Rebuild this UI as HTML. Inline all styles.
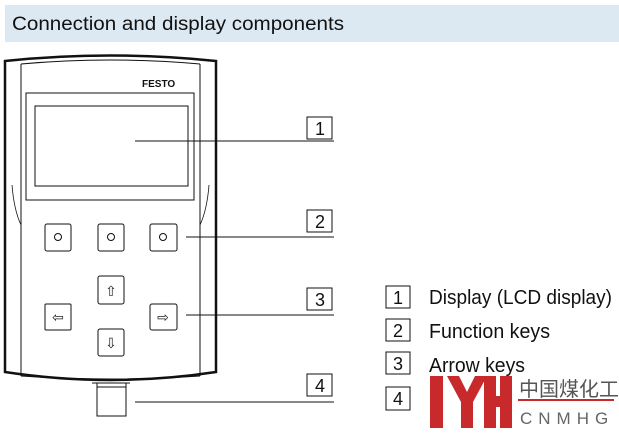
<!DOCTYPE html>
<html><head><style>body{margin:0;background:#fff;width:619px;height:433px;overflow:hidden}</style></head><body>
<svg width="619" height="433" viewBox="0 0 619 433" xmlns="http://www.w3.org/2000/svg" font-family="Liberation Sans, sans-serif">
<rect x="5" y="5" width="614" height="37" fill="#dce8f2"/>
<text x="12" y="30" font-size="19" fill="#111" textLength="332" lengthAdjust="spacingAndGlyphs">Connection and display components</text>
<g fill="none" stroke="#111">
<path d="M5,61 Q110,50 216,61 L216,372 Q110,388 5,372 Z" stroke-width="2.5"/>
<path d="M21,64 L21,376 M200,64 L200,376" stroke-width="1"/>
<path d="M21,64 Q110,56 200,64 M21,376 Q110,382 200,376" stroke-width="1"/>
<path d="M12,185 Q14,210 21,225 M209,185 Q207,210 200,225" stroke-width="0.8"/>
<rect x="26" y="93" width="168" height="107" stroke-width="1"/>
<rect x="35" y="106" width="153" height="80" stroke-width="1"/>
<rect x="45" y="224" width="26" height="27" rx="2"/>
<rect x="98" y="224" width="26" height="27" rx="2"/>
<rect x="150" y="224" width="27" height="27" rx="2"/>
<circle cx="58" cy="237" r="3.5"/><circle cx="111" cy="237" r="3.5"/><circle cx="163" cy="237" r="3.5"/>
<rect x="98" y="276" width="26" height="28" rx="2"/>
<rect x="45" y="304" width="26" height="26" rx="1"/>
<rect x="150" y="304" width="27" height="26" rx="2"/>
<rect x="98" y="329" width="26" height="27" rx="2"/>
<rect x="97" y="387" width="29" height="29"/>
<path d="M92,383 L130,383 M97,383 L97,387 M126,383 L126,387" stroke-width="1"/>
<g stroke-width="1"><rect x="307" y="117" width="25" height="22"/><rect x="307" y="210" width="25" height="22"/><rect x="307" y="288" width="25" height="22"/><rect x="307" y="374" width="25" height="22"/>
<rect x="386" y="286" width="24" height="22"/><rect x="386" y="319" width="24" height="22"/><rect x="386" y="352" width="24" height="22"/><rect x="386" y="387" width="24" height="23"/></g>
<path d="M135,141 L334,141 M186,237 L334,237 M186,315 L334,315 M135,402 L334,402" stroke-width="1"/>
</g>
<text x="142" y="87" font-size="10" font-weight="bold" fill="#111">FESTO</text>
<g font-size="14" fill="#222" text-anchor="middle">
<text x="111" y="296">⇧</text><text x="58" y="322">⇦</text><text x="163" y="322">⇨</text><text x="111" y="348">⇩</text></g>
<g font-size="18" fill="#111" text-anchor="middle">
<text x="320" y="135">1</text><text x="320" y="228">2</text><text x="320" y="306">3</text><text x="320" y="392">4</text>
<text x="398" y="304">1</text><text x="398" y="337">2</text><text x="398" y="370">3</text><text x="398" y="405">4</text></g>
<g font-size="20" fill="#111" lengthAdjust="spacingAndGlyphs">
<text x="429" y="304" textLength="183" lengthAdjust="spacingAndGlyphs">Display (LCD display)</text>
<text x="429" y="338" textLength="121" lengthAdjust="spacingAndGlyphs">Function keys</text>
<text x="429" y="372" textLength="96" lengthAdjust="spacingAndGlyphs">Arrow keys</text></g>
<g fill="#c8292a">
<rect x="430" y="376" width="13" height="52"/>
<path d="M447,376 L459,376 L467,392 L475,376 L487,376 L473,402 L473,428 L461,428 L461,402 Z"/>
<rect x="484" y="376" width="12" height="52"/><rect x="500" y="376" width="12" height="52"/><rect x="484" y="396" width="28" height="11"/>
<rect x="518" y="399" width="96" height="2"/></g>
<text x="519" y="396" font-size="20" fill="#555" font-family="Noto Sans CJK SC, sans-serif">中国煤化工</text>
<text x="520" y="424" font-size="17" fill="#666" letter-spacing="6">CNMHG</text>
</svg>
</body></html>
